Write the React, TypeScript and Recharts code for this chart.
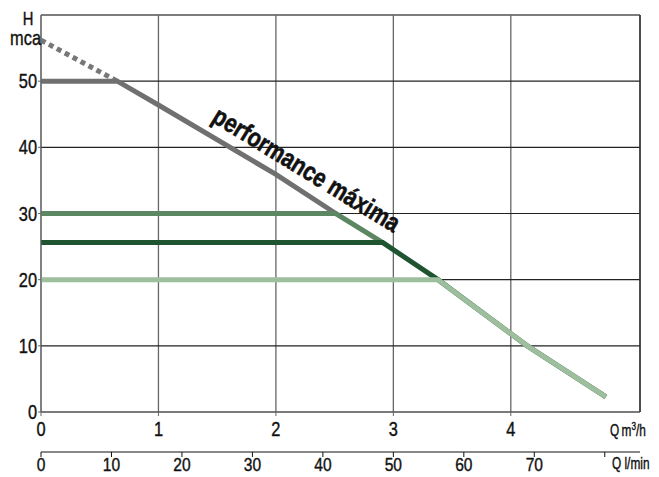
import React from "react";
import {
  LineChart,
  Line,
  XAxis,
  YAxis,
  CartesianGrid,
  ReferenceLine,
} from "recharts";

type Pt = { x: number; y: number };

const flowTicks = [0, 1, 2, 3, 4];
const litreTicks = [0, 10, 20, 30, 40, 50, 60, 70, 80];
const headTicks = [0, 10, 20, 30, 40, 50];

// m3/h vs metres of head
const maxDotted: Pt[] = [
  { x: 0, y: 56.2 },
  { x: 0.65, y: 50 },
];
const maxCurve: Pt[] = [
  { x: 0, y: 50 },
  { x: 0.65, y: 50 },
  { x: 1, y: 46.4 },
  { x: 2, y: 35.9 },
  { x: 2.51, y: 30 },
];
const limit30: Pt[] = [
  { x: 0, y: 30 },
  { x: 2.51, y: 30 },
  { x: 2.91, y: 25.6 },
];
const limit25: Pt[] = [
  { x: 0, y: 25.6 },
  { x: 2.91, y: 25.6 },
  { x: 3.38, y: 20 },
  { x: 4.14, y: 10 },
  { x: 4.81, y: 2.3 },
];
const limit20: Pt[] = [
  { x: 0, y: 20 },
  { x: 3.38, y: 20 },
  { x: 4.14, y: 10 },
  { x: 4.81, y: 2.3 },
];

// same curve expressed in l/min, only used to drive the second axis
const litreHelper = limit20.map((p) => ({ l: (p.x * 1000) / 60, y: p.y }));

const font = '"Liberation Sans", Arial, sans-serif';
const NARROW = "scale(0.82,1)";

const XTick = (props: any) => {
  const { x, y, payload, hide, size = 20 } = props;
  if (hide && hide.includes(payload.value)) return null;
  return (
    <g transform={`translate(${x},${y})`}>
      <text
        textAnchor="middle"
        dy="0.71em"
        transform={NARROW}
        fontFamily={font}
        fontSize={size}
        fill="#111"
        stroke="#111"
        strokeWidth={0.4}
      >
        {payload.value}
      </text>
    </g>
  );
};

const YTick = (props: any) => {
  const { x, y, payload } = props;
  return (
    <g transform={`translate(${x},${y})`}>
      <text
        textAnchor="end"
        dy="0.355em"
        transform={NARROW}
        fontFamily={font}
        fontSize={20}
        fill="#111"
        stroke="#111"
        strokeWidth={0.4}
      >
        {payload.value}
      </text>
    </g>
  );
};

export default function App() {
  return (
    <div style={{ position: "absolute", left: 0, top: 0, width: 659, height: 477, background: "#fff" }}>
      <LineChart
        width={659}
        height={477}
        margin={{ top: 15, right: 19, left: 0, bottom: 0 }}
      >
        <CartesianGrid xAxisId="q1" horizontal={false} stroke="#666" strokeWidth={1.3} />
        <CartesianGrid xAxisId="q1" vertical={false} stroke="#222" strokeWidth={1.2} />
        <XAxis
          xAxisId="q1"
          type="number"
          dataKey="x"
          domain={[0, 5.1]}
          ticks={flowTicks}
          height={40}
          tickSize={4}
          tickMargin={6}
          stroke="#666"
          tick={<XTick />}
          allowDataOverflow
        />
        <XAxis
          xAxisId="q2"
          type="number"
          dataKey="l"
          domain={[0, 85]}
          ticks={litreTicks}
          height={25}
          tickSize={5}
          tickMargin={1}
          stroke="#111"
          tick={<XTick hide={[80]} size={19} />}
          allowDataOverflow
        />
        <YAxis
          type="number"
          domain={[0, 60]}
          ticks={headTicks}
          width={41}
          tickSize={3}
          tickMargin={1}
          stroke="#666"
          tick={<YTick />}
        />
        <ReferenceLine xAxisId="q1" y={60} stroke="#777" strokeWidth={1.5} />
        <ReferenceLine xAxisId="q1" x={5.1} stroke="#333" strokeWidth={1.5} />
        <Line
          xAxisId="q2"
          data={litreHelper}
          dataKey="y"
          type="linear"
          stroke="none"
          dot={false}
          isAnimationActive={false}
        />
        <Line
          xAxisId="q1"
          data={maxDotted}
          dataKey="y"
          type="linear"
          stroke="#777"
          strokeWidth={5}
          strokeDasharray="5 4"
          dot={false}
          isAnimationActive={false}
        />
        <Line
          xAxisId="q1"
          data={maxCurve}
          dataKey="y"
          type="linear"
          stroke="#707070"
          strokeWidth={5}
          dot={false}
          isAnimationActive={false}
        />
        <Line
          xAxisId="q1"
          data={limit30}
          dataKey="y"
          type="linear"
          stroke="#5c8762"
          strokeWidth={5}
          dot={false}
          isAnimationActive={false}
        />
        <Line
          xAxisId="q1"
          data={limit25}
          dataKey="y"
          type="linear"
          stroke="#1f5430"
          strokeWidth={5}
          dot={false}
          isAnimationActive={false}
        />
        <Line
          xAxisId="q1"
          data={limit20}
          dataKey="y"
          type="linear"
          stroke="#9dbf9d"
          strokeWidth={5}
          dot={false}
          isAnimationActive={false}
        />
      </LineChart>
      <svg
        width={659}
        height={477}
        style={{ position: "absolute", left: 0, top: 0, pointerEvents: "none" }}
      >
        <g fontFamily={font} fill="#111" stroke="#111" strokeWidth={0.4}>
          <text transform="translate(28,25) scale(0.82,1)" fontSize={18} textAnchor="middle">H</text>
          <text transform="translate(41,45) scale(0.82,1)" fontSize={20} textAnchor="end">mca</text>
          <text transform="translate(610,436) scale(0.74,1)" fontSize={16}>
            Q{"\u2009"}m<tspan dy={-6} fontSize={11}>3</tspan>
            <tspan dy={6}>/h</tspan>
          </text>
          <text transform="translate(612,469) scale(0.74,1)" fontSize={16}>Q l/min</text>
          <text
            transform="translate(302,177) rotate(31.5) scale(0.82,1)"
            fontSize={26}
            fontWeight="bold"
            textAnchor="middle"
            strokeWidth={0.6}
          >
            performance máxima
          </text>
        </g>
      </svg>
    </div>
  );
}
